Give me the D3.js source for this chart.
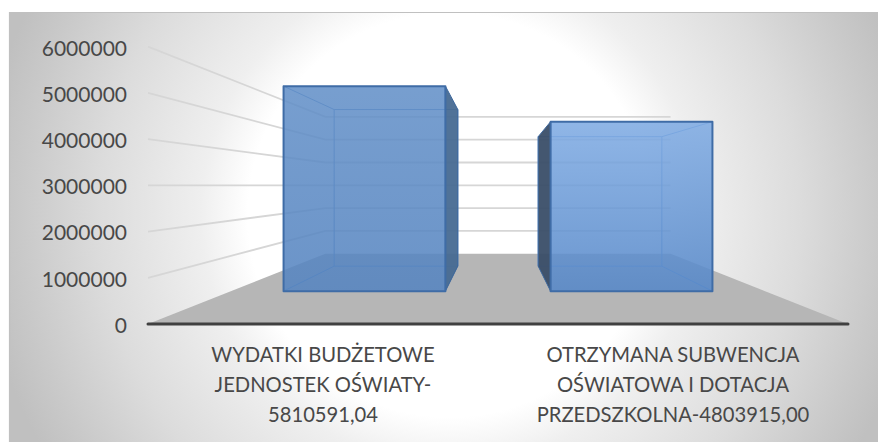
<!DOCTYPE html>
<meta charset="utf-8">
<style>
body { margin: 0; background: #fff; }
text { font-family: Lato, sans-serif; fill: #484848; }
</style>
<body>
<script src="https://d3js.org/d3.v7.min.js"></script>
<script>

var categories = ["WYDATKI BUDŻETOWE JEDNOSTEK OŚWIATY-5810591,04", "OTRZYMANA SUBWENCJA OŚWIATOWA I DOTACJA PRZEDSZKOLNA-4803915,00"];
var categoryLines = [
  ["WYDATKI BUDŻETOWE", "JEDNOSTEK OŚWIATY-", "5810591,04"],
  ["OTRZYMANA SUBWENCJA", "OŚWIATOWA I DOTACJA", "PRZEDSZKOLNA-4803915,00"]
];
var values = [5810591.04, 4803915.00];
var yTicks = [0, 1000000, 2000000, 3000000, 4000000, 5000000, 6000000];

// per bar colours, the first bar is a bit duller in the picture
var fillTop = ["#6390c8", "#7fabe3"];
var fillBottom = ["#5584c0", "#5587c8"];
var sideFill = ["#476a92", "#3a4e68"];

var width = 879,
    height = 443;

// vanishing point of the fake 3d box, t is the depth scale (1 = front edge)
var vx = 498, vy = 185.3;
var tBack = 0.493, tBarFront = 0.763, tBarBack = 0.583;

var x = d3.scaleBand().domain(categories).range([-350, 350]).paddingInner(0.394).paddingOuter(0.197);
var y = d3.scaleLinear().domain([0, 6000000]).range([138.7, -138.7]);

function px(X, t) { return vx + X * t; }
function py(v, t) { return vy + y(v) * t; }
function pt(X, v, t) { return [px(X, t), py(v, t)]; }

var svg = d3.select("body").append("svg")
    .attr("width", width)
    .attr("height", height)
    .style("display", "block");

var defs = svg.append("defs");

var bg = defs.append("radialGradient").attr("id", "bg")
    .attr("gradientUnits", "userSpaceOnUse")
    .attr("cx", 450).attr("cy", 215).attr("r", 470);
[[0.43, "#ffffff"], [0.53, "#efefef"], [0.745, "#dcdcdc"], [0.915, "#c9c9c9"], [1, "#c0c0c0"]].forEach(function(s) {
  bg.append("stop").attr("offset", s[0]).attr("stop-color", s[1]);
});

categories.forEach(function(c, i) {
  var g = defs.append("linearGradient").attr("id", "barFill" + i)
      .attr("x1", 0).attr("y1", 0).attr("x2", 0).attr("y2", 1);
  g.append("stop").attr("offset", "0").attr("stop-color", fillTop[i]);
  g.append("stop").attr("offset", "1").attr("stop-color", fillBottom[i]);
});

svg.append("rect")
    .attr("x", 9).attr("y", 12)
    .attr("width", 869).attr("height", 430)
    .attr("fill", "url(#bg)");
svg.append("path")
    .attr("d", "M9.5,442V12.5H878")
    .attr("fill", "none").attr("stroke", "#c0c0c0").attr("stroke-width", 1.2);

var floor = [pt(-350, 0, 1), pt(350, 0, 1), pt(350, 0, tBack), pt(-350, 0, tBack)];
svg.append("polygon")
    .attr("points", floor.join(" "))
    .attr("fill", "#b6b6b6");

// gridlines: side wall and back wall
svg.append("g").selectAll("path")
    .data(yTicks.slice(1))
  .enter().append("path")
    .attr("d", function(d) {
      return d3.line()([pt(-350, d, 1), pt(-350, d, tBack), pt(350, d, tBack)]);
    })
    .attr("fill", "none")
    .attr("stroke", "#d6d6d6")
    .attr("stroke-width", 1.8);

var bars = svg.append("g").selectAll("g")
    .data(categories)
  .enter().append("g");

function quad(g, pts, fill, opacity, stroke, sw) {
  g.append("polygon")
    .attr("points", pts.join(" "))
    .attr("fill", fill)
    .attr("fill-opacity", opacity)
    .attr("stroke", stroke)
    .attr("stroke-width", sw)
    .attr("stroke-linejoin", "round");
}

bars.each(function(c, i) {
  var g = d3.select(this),
      x0 = x(c),
      x1 = x0 + x.bandwidth(),
      v = values[i],
      a = tBarFront,
      b = tBarBack,
      edge = i === 0 ? "#5a8ac6" : "#6797d6";
  // the side that faces the middle of the chart is the dark one
  var inner = i === 0 ? x1 : x0,
      outer = i === 0 ? x0 : x1;

  // edges of the box seen through the front face
  quad(g, [pt(x0, v, b), pt(x1, v, b), pt(x1, 0, b), pt(x0, 0, b)], "none", 1, edge, 1);
  g.append("path")
    .attr("d", d3.line()([pt(outer, v, a), pt(outer, v, b)]) + d3.line()([pt(outer, 0, a), pt(outer, 0, b)]))
    .attr("fill", "none")
    .attr("stroke", edge);
  quad(g, [pt(inner, v, a), pt(inner, v, b), pt(inner, 0, b), pt(inner, 0, a)], sideFill[i], 0.95, "#3a669c", 1);
  quad(g, [pt(x0, v, a), pt(x1, v, a), pt(x1, 0, a), pt(x0, 0, a)], "url(#barFill" + i + ")", 0.87, "#3f6ca6", 2);
});

// axis line at the front edge
svg.append("line")
    .attr("x1", px(-350, 1)).attr("x2", px(350, 1))
    .attr("y1", py(0, 1)).attr("y2", py(0, 1))
    .attr("stroke", "#404040")
    .attr("stroke-width", 3)
    .attr("stroke-linecap", "round");

var yAxis = svg.append("g")
    .attr("transform", "translate(" + (px(-350, 1) - 21) + "," + vy + ")")
    .call(d3.axisLeft(y).tickValues(yTicks).tickFormat(d3.format("d")).tickSize(0).tickPadding(0));
yAxis.select(".domain").remove();
yAxis.selectAll("text")
    .style("font-family", "Lato, sans-serif")
    .style("font-size", "21px")
    .style("fill", "#484848")
    .attr("dy", "0.40em");

var xLabels = svg.append("g").selectAll("text")
    .data(categories)
  .enter().append("text")
    .attr("text-anchor", "middle")
    .style("font-size", "20.2px");

xLabels.selectAll("tspan")
    .data(function(c, i) { return categoryLines[i].map(function(l) { return {c: c, l: l}; }); })
  .enter().append("tspan")
    .attr("x", function(d) { return px(x(d.c) + x.bandwidth() / 2, 1); })
    .attr("y", function(d, j) { return 361.5 + j * 30; })
    .text(function(d) { return d.l; });

</script>
